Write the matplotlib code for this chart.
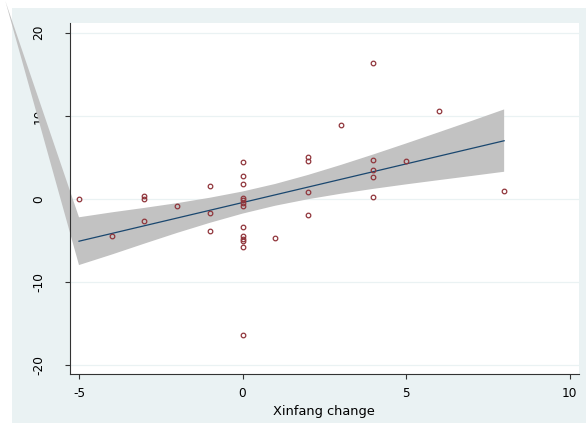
import matplotlib

matplotlib.use("Agg")
import matplotlib.pyplot as plt
import numpy as np
from matplotlib.patches import Polygon, Rectangle

# Xinfang change (x) against the outcome change (y)
xinfang = [-5, -4, -3, -3, -3, -2, -1, -1, -1,
           0, 0, 0, 0, 0, 0, 0, 0, 0, 0, 0, 0, 0,
           1, 2, 2, 2, 2, 3, 4, 4, 4, 4, 4, 5, 6, 8]
outcome = [0.0, -4.5, 0.4, 0.0, -2.65, -0.8, 1.6, -1.7, -3.9,
           4.5, 2.8, 1.8, 0.1, -0.1, -0.5, -0.8, -3.4, -4.5, -4.8, -5.0, -5.8, -16.4,
           -4.65, 5.1, 4.6, 0.9, -1.9, 8.9, 16.4, 4.7, 3.5, 2.7, 0.3, 4.6, 10.6, 1.0]

# fitted line and its 95% band
fit_x = [-5, 8]
fit_y = [-5.08, 7.01]
band_x = [-5, -4, -3, -2, -1, 0, 1, 2, 3, 4, 5, 6, 7, 8]
band_upper = [-2.2, -1.61, -1.07, -0.5, 0.15, 0.9, 1.81, 2.89, 4.09, 5.36, 6.68, 8.03, 9.39, 10.78]
band_lower = [-7.95, -6.69, -5.37, -4.08, -2.87, -1.76, -0.81, -0.03, 0.63, 1.22, 1.76, 2.27, 2.77, 3.28]
# stray vertex on the band outline (drawn unclipped)
band_spur = (-7.25, 23.8)

x_ticks = [-5, 0, 5, 10]
y_ticks = [-20, -10, 0, 10, 20]
x_title = "Xinfang change"

BG = "#eaf2f3"
MARKER = "#90353b"
LINE = "#1a476f"
BAND = "#c2c2c2"
AXIS = "#333333"

plt.rcParams["font.family"] = ["DejaVu Sans"]

fig = plt.figure(figsize=(5.86, 4.25), dpi=100)
fig.patch.set_facecolor("white")
fig.add_artist(Rectangle((12 / 586, 2 / 425), 574 / 586, 415 / 425,
                         transform=fig.transFigure, facecolor=BG, edgecolor="none", zorder=0))

ax = fig.add_axes([70 / 586, 51 / 425, 508.7 / 586, 351 / 425])
ax.set_facecolor("white")
ax.set_xlim(-5.275, 10.28)
ax.set_ylim(-21.06, 21.18)

for yt in y_ticks:
    ax.axhline(yt, color=BG, linewidth=0.9, zorder=1)

outline = np.vstack([
    np.column_stack([band_x, band_upper]),
    np.column_stack([band_x[::-1], band_lower[::-1]]),
    [band_spur],
])
ax.add_patch(Polygon(outline, closed=True, facecolor=BAND, edgecolor="none",
                     zorder=2, clip_on=False))
ax.plot(fit_x, fit_y, color=LINE, linewidth=0.9, zorder=3)
ax.plot(xinfang, outcome, linestyle="none", marker="o", markersize=3.3,
        markerfacecolor="none", markeredgecolor=MARKER, markeredgewidth=0.9, zorder=4)

for side in ("top", "right"):
    ax.spines[side].set_visible(False)
for side in ("left", "bottom"):
    ax.spines[side].set_color(AXIS)
    ax.spines[side].set_linewidth(0.8)

ax.set_xticks(x_ticks)
ax.set_yticks(y_ticks)
ax.set_xticklabels([str(v) for v in x_ticks])
ax.set_yticklabels([str(v) for v in y_ticks], rotation=90, va="center")
ax.tick_params(axis="x", direction="out", length=3.6, width=0.8, color=AXIS,
               labelsize=8.7, pad=5.8)
ax.tick_params(axis="y", direction="out", length=3.6, width=0.8, color=AXIS,
               labelsize=8.7, pad=14)
ax.set_xlabel(x_title, fontsize=9.4, labelpad=3.5)

fig.savefig("out.png", dpi=100)
plt.close(fig)
